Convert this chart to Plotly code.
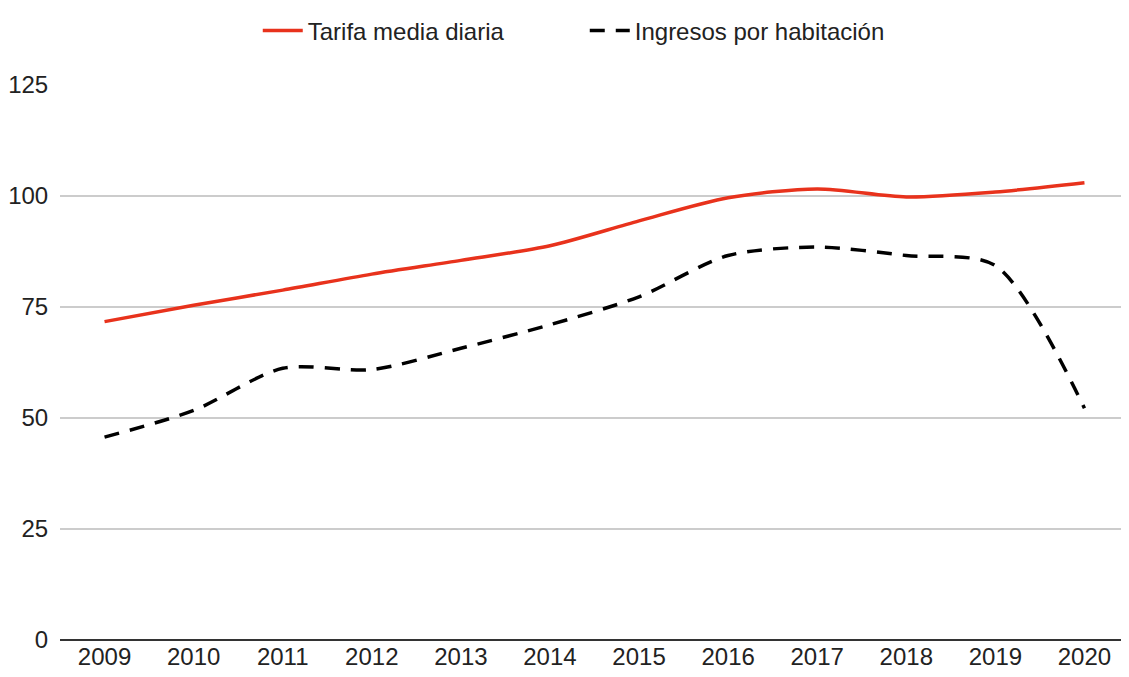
import plotly.graph_objects as go

years = ["2009", "2010", "2011", "2012", "2013", "2014", "2015", "2016", "2017", "2018", "2019", "2020"]
tarifa = [71.7, 75.4, 78.8, 82.4, 85.5, 88.8, 94.4, 99.6, 101.6, 99.8, 100.9, 103.0]
ingresos = [45.7, 51.7, 61.2, 60.9, 65.7, 71.0, 77.3, 86.6, 88.5, 86.6, 84.3, 52.2]
yticks = [0, 25, 50, 75, 100, 125]

fig = go.Figure()
fig.add_trace(go.Scatter(x=years, y=tarifa, name="Tarifa media diaria", mode="lines",
                         line=dict(color="#e8321c", width=3.5, shape="spline", smoothing=0.8)))
fig.add_trace(go.Scatter(x=years, y=ingresos, name="Ingresos por habitación", mode="lines",
                         line=dict(color="#000000", width=3.5, shape="spline", smoothing=0.8, dash="15px,11px")))

fig.update_layout(
    width=1121, height=669,
    margin=dict(l=52, r=0, t=69, b=37),
    plot_bgcolor="white", paper_bgcolor="white",
    font=dict(family="Liberation Sans, Arial, sans-serif", size=24, color="#222222"),
    legend=dict(orientation="h", x=0.185, xanchor="left", y=1.0977, yanchor="middle",
                font=dict(size=24), itemwidth=40, entrywidth=272, traceorder="normal"),
    showlegend=True,
)
fig.update_xaxes(type="category", range=[-0.5, 11.5], showgrid=False, showline=False,
                 ticks="", automargin=False, tickfont=dict(size=24, color="#222222"))
fig.update_yaxes(range=[0, 125], tickvals=yticks, showgrid=True, gridcolor="#cccccc", gridwidth=1.5,
                 zeroline=True, zerolinecolor="#333333", zerolinewidth=1.5, showline=False,
                 ticks="outside", ticklen=6, tickcolor="rgba(0,0,0,0)", automargin=False,
                 tickfont=dict(size=24, color="#222222"))

fig.write_html("out.html")
